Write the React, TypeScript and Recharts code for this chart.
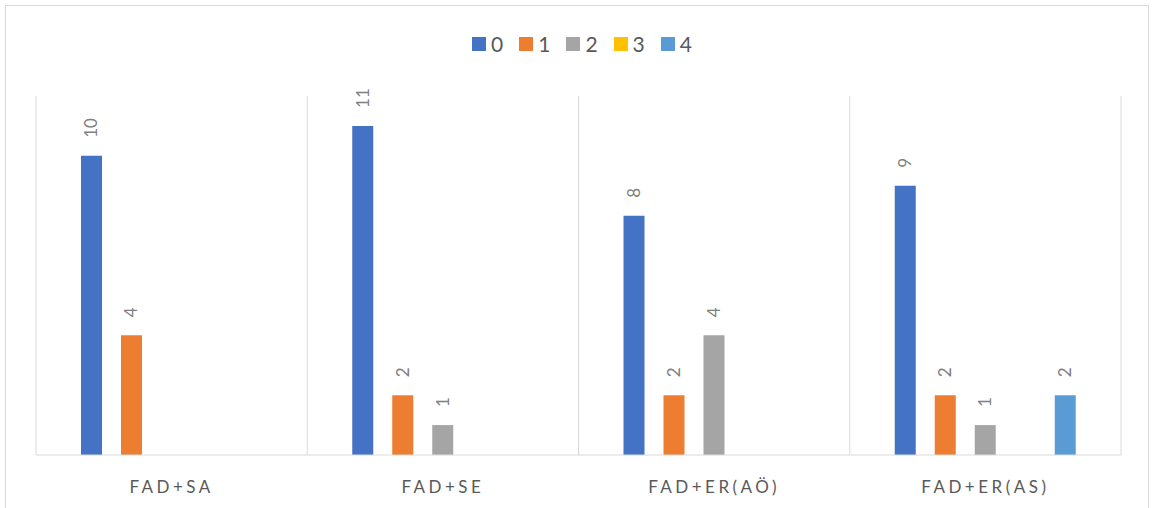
import { BarChart, Bar, XAxis, YAxis, CartesianGrid, LabelList } from 'recharts';

const categories = ['FAD+SA', 'FAD+SE', 'FAD+ER(AÖ)', 'FAD+ER(AS)'];
const seriesNames = ['0', '1', '2', '3', '4'];
const seriesColors = ['#4472C4', '#ED7D31', '#A5A5A5', '#FFC000', '#5B9BD5'];

// counts per category for each series (null = no bar)
const series0 = [10, 11, 8, 9];
const series1 = [4, 2, 2, 2];
const series2 = [null, 1, 4, 1];
const series3 = [null, null, null, null];
const series4 = [null, null, null, 2];

const allSeries = [series0, series1, series2, series3, series4];

const data = categories.map((name, i) => {
    const row: Record<string, string | number | null> = { name };
    seriesNames.forEach((s, j) => {
        row[`s${s}`] = allSeries[j][i];
    });
    return row;
});

const FONT = 'Lato, "Open Sans", sans-serif';

const CategoryTick = ({ x, y, payload }: any) => (
    <text
        x={x}
        y={y + 30}
        textAnchor="middle"
        fill="#595959"
        fontSize={17}
        fontFamily={FONT}
        letterSpacing={3.5}
    >
        {payload.value}
    </text>
);

const RotatedLabel = ({ x, y, width, value }: any) => {
    if (value === null || value === undefined) return null;
    const cx = x + width / 2;
    const cy = y - 18;
    return (
        <text
            x={cx}
            y={cy}
            transform={`rotate(-90, ${cx}, ${cy})`}
            textAnchor="start"
            dy="0.35em"
            fill="#808080"
            fontSize={17}
            fontFamily={FONT}
        >
            {value}
        </text>
    );
};

const LegendRow = () => (
    <div
        style={{
            position: 'absolute',
            top: 31,
            left: 6,
            width: 1152,
            display: 'flex',
            justifyContent: 'center',
            fontFamily: FONT,
            fontSize: 21,
            color: '#595959',
        }}
    >
        {seriesNames.map((s, i) => (
            <div key={s} style={{ display: 'flex', alignItems: 'center', marginRight: i < 4 ? 16 : 0 }}>
                <span style={{ width: 14, height: 14, background: seriesColors[i], marginRight: 5 }} />
                <span>{s}</span>
            </div>
        ))}
    </div>
);

const App = () => {
    return (
        <div style={{ position: 'absolute', left: 0, top: 0, width: 1152, height: 508, background: '#fff', overflow: 'hidden' }}>
            <div
                style={{
                    position: 'absolute',
                    left: 5,
                    top: 5,
                    width: 1142,
                    height: 520,
                    border: '1.5px solid #d9d9d9',
                }}
            />
            <LegendRow />
            <div style={{ position: 'absolute', left: 0, top: 0 }}>
                <BarChart
                    width={1152}
                    height={508}
                    data={data}
                    margin={{ top: 96, right: 31, bottom: 23, left: 36 }}
                    barSize={21}
                    barGap={19}
                >
                    <CartesianGrid
                        horizontal={false}
                        stroke="#d9d9d9"
                        verticalCoordinatesGenerator={({ offset }: any) =>
                            [0, 1, 2, 3, 4].map((i) => offset.left + (i * offset.width) / 4)
                        }
                    />
                    <XAxis
                        dataKey="name"
                        height={30}
                        axisLine={{ stroke: '#d9d9d9' }}
                        tickLine={false}
                        tick={<CategoryTick />}
                        interval={0}
                    />
                    <YAxis hide domain={[0, 12]} />
                    {seriesNames.map((s, i) => (
                        <Bar key={s} dataKey={`s${s}`} fill={seriesColors[i]} isAnimationActive={false}>
                            <LabelList dataKey={`s${s}`} content={<RotatedLabel />} />
                        </Bar>
                    ))}
                </BarChart>
            </div>
        </div>
    );
};

export default App;
